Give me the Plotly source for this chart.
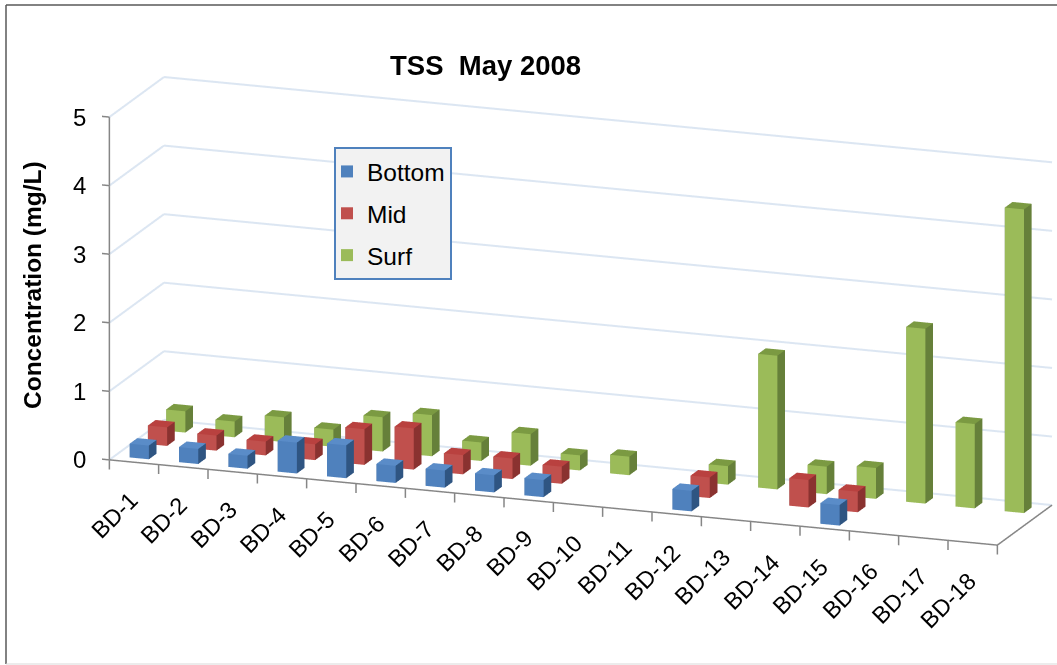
import plotly.graph_objects as go

categories = ["BD-%d" % i for i in range(1, 19)]
bottom = [0.2, 0.22, 0.19, 0.45, 0.48, 0.25, 0.25, 0.25, 0.25, 0, 0, 0.3, 0, 0, 0.3, 0, 0, 0]
mid = [0.27, 0.22, 0.2, 0.23, 0.52, 0.6, 0.28, 0.3, 0.25, 0, 0, 0.3, 0, 0.4, 0.3, 0, 0, 0]
surf = [0.31, 0.23, 0.36, 0.25, 0.5, 0.6, 0.27, 0.46, 0.22, 0.27, 0, 0.27, 1.95, 0.4, 0.45, 2.55, 1.23, 4.43]
z_ticks = [0, 1, 2, 3, 4, 5]

BAR_W = 0.39
BAR_D = 0.42
FONT = "Liberation Sans"
X0, X1 = 0.5, 18.5
Y0, Y1 = 0, 3
XLOW, XHIGH = 0.35, 18.6
YLOW, YHIGH = -0.05, 3.05
ZLOW, ZHIGH = -0.14, 5.05
ZTOP = 5


def box_mesh(values, depth_center, colors, name):
    xs, ys, zs, i, j, k, fc = [], [], [], [], [], [], []
    front, side, top = colors
    for idx, v in enumerate(values):
        if not v:
            continue
        cx = idx + 1
        x0, x1 = cx - BAR_W / 2, cx + BAR_W / 2
        y0, y1 = depth_center - BAR_D / 2, depth_center + BAR_D / 2
        b = len(xs)
        for (px, py, pz) in [(x0, y0, 0), (x1, y0, 0), (x1, y1, 0), (x0, y1, 0),
                             (x0, y0, v), (x1, y0, v), (x1, y1, v), (x0, y1, v)]:
            xs.append(px); ys.append(py); zs.append(pz)
        faces = [((0, 1, 5), front), ((0, 5, 4), front),
                 ((1, 2, 6), side), ((1, 6, 5), side),
                 ((4, 5, 6), top), ((4, 6, 7), top),
                 ((0, 3, 7), side), ((0, 7, 4), side),
                 ((3, 2, 6), side), ((3, 6, 7), side)]
        for (a, c, d), col in faces:
            i.append(b + a); j.append(b + c); k.append(b + d); fc.append(col)
    return go.Mesh3d(x=xs, y=ys, z=zs, i=i, j=j, k=k, facecolor=fc, flatshading=True,
                     lighting=dict(ambient=1, diffuse=0, specular=0, roughness=1, fresnel=0),
                     name=name, showlegend=False, hoverinfo="skip")


def lines3d(segments, color, width):
    xs, ys, zs = [], [], []
    for a, b in segments:
        xs += [a[0], b[0], None]; ys += [a[1], b[1], None]; zs += [a[2], b[2], None]
    return go.Scatter3d(x=xs, y=ys, z=zs, mode="lines", line=dict(color=color, width=width),
                        showlegend=False, hoverinfo="skip")


series = [("Bottom", bottom, 0.5, ("#4f81bd", "#2f5582", "#5a8cc8")),
          ("Mid", mid, 1.5, ("#c0504d", "#8a3230", "#b9413f")),
          ("Surf", surf, 2.5, ("#9bbb59", "#66803a", "#7b9a42"))]

fig = go.Figure()

grid = []
for t in z_ticks:
    grid.append(((X0, Y0, t), (X0, Y1, t)))
    grid.append(((X0, Y1, t), (X1, Y1, t)))
fig.add_trace(lines3d(grid, "#dce6f2", 4))

axes = [((X0, Y0, 0), (X1, Y0, 0)), ((X1, Y0, 0), (X1, Y1, 0)), ((X0, Y0, 0), (X0, Y0, ZTOP))]
for n in range(len(categories) + 1):
    axes.append(((X0 + n, Y0, 0), (X0 + n, Y0, ZLOW)))
for t in z_ticks:
    axes.append(((X0, Y0, t), (XLOW, Y0, t)))
fig.add_trace(lines3d(axes, "#868686", 3))

for name, vals, d, cols in series:
    fig.add_trace(box_mesh(vals, d, cols, name))

for name, vals, d, cols in series:
    fig.add_trace(go.Scatter3d(x=[None], y=[None], z=[None], mode="markers", name=name, legendgroup=name,
                               marker=dict(symbol="square", size=13, color=cols[0]),
                               showlegend=True, hoverinfo="skip"))

anns = []
for n, c in enumerate(categories):
    anns.append(dict(x=n + 1, y=0, z=0, text=c, showarrow=False, textangle=-45, yshift=-22, xshift=12,
                     xanchor="right", yanchor="top", font=dict(family=FONT, size=23.5, color="#000")))
for t in z_ticks:
    anns.append(dict(x=X0, y=0, z=t, text=str(t), showarrow=False,
                     xanchor="right", yanchor="middle", xshift=-21, font=dict(family=FONT, size=24, color="#000")))

hidden = dict(visible=False, showbackground=False, showspikes=False, title="")

# orthographic view: direction fixed; shifted look-at point; scale comes from aspect ratio
dirx, diry, dirz = 0.328, -0.906, 0.265
DIST = 2.2
cx, cy, cz = -0.1441, -0.0521, -0.0576
K = 1.08
ax, ay, az = 2.63 * K / 18, 0.43 * K * 1.04 / 3, K * 0.99 / 5

fig.update_layout(
    width=1057, height=665, margin=dict(l=0, r=0, t=0, b=0),
    paper_bgcolor="white",
    scene=dict(
        domain=dict(x=[0, 1], y=[0, 1]),
        xaxis=dict(hidden, range=[XLOW, XHIGH]),
        yaxis=dict(hidden, range=[YLOW, YHIGH]),
        zaxis=dict(hidden, range=[ZLOW, ZHIGH]),
        aspectmode="manual",
        aspectratio=dict(x=ax * (XHIGH - XLOW), y=ay * (YHIGH - YLOW), z=az * (ZHIGH - ZLOW)),
        camera=dict(projection=dict(type="orthographic"),
                    eye=dict(x=cx + dirx * DIST, y=cy + diry * DIST, z=cz + dirz * DIST),
                    center=dict(x=cx, y=cy, z=cz), up=dict(x=0, y=0, z=1)),
        annotations=anns,
    ),
    legend=dict(x=334 / 1057, y=1 - 147 / 665, xanchor="left", yanchor="top",
                bgcolor="#f2f2f2", bordercolor="#4f81bd", borderwidth=2, indentation=-9,
                font=dict(family=FONT, size=24.5, color="#000"), itemsizing="constant", tracegroupgap=7),
    shapes=[
        dict(type="line", xref="paper", yref="paper", x0=6 / 1057, x1=1, y0=1 - 5 / 665, y1=1 - 5 / 665, line=dict(color="#595959", width=1.5)),
        dict(type="line", xref="paper", yref="paper", x0=6 / 1057, x1=6 / 1057, y0=1 - 664 / 665, y1=1 - 5 / 665, line=dict(color="#595959", width=1.5)),
        dict(type="line", xref="paper", yref="paper", x0=6 / 1057, x1=1, y0=1 - 664 / 665, y1=1 - 664 / 665, line=dict(color="#d9d9d9", width=1)),
    ],
    annotations=[
        dict(x=485 / 1057, y=1 - 65 / 665, xref="paper", yref="paper", text="<b>TSS  May 2008</b>", showarrow=False,
             xanchor="center", yanchor="middle", font=dict(family=FONT, size=27.5, color="#000")),
        dict(x=32 / 1057, y=1 - 285 / 665, xref="paper", yref="paper", text="<b>Concentration (mg/L)</b>", showarrow=False,
             xanchor="center", yanchor="middle", textangle=-90, font=dict(family=FONT, size=24.5, color="#000")),
    ],
)
fig.write_html("out.html", config=dict(displayModeBar=False),
               post_script="document.body.style.margin='0';")
